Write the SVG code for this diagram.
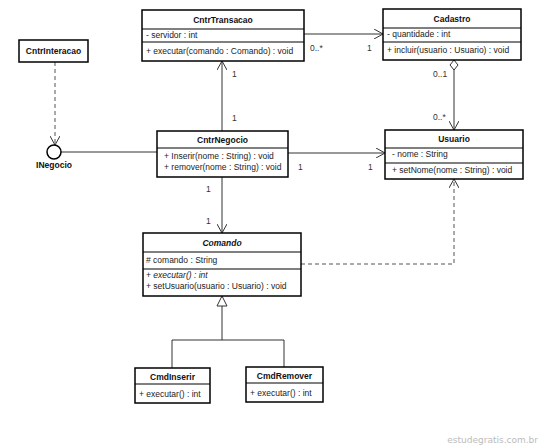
<svg xmlns="http://www.w3.org/2000/svg" width="546" height="448" viewBox="0 0 546 448">
<style>
.box{fill:#fff;stroke:#000;stroke-width:1.5}
.sep{stroke:#000;stroke-width:1}
.t{font-family:"Liberation Sans",Arial,sans-serif;font-size:8.5px;fill:#222}
.h{font-family:"Liberation Sans",Arial,sans-serif;font-size:8.5px;font-weight:bold;fill:#111;text-anchor:middle}
.c{stroke:#333;stroke-width:1;fill:none}
.d{stroke:#555;stroke-width:1;fill:none;stroke-dasharray:4,3}
.m{font-family:"Liberation Sans",Arial,sans-serif;font-size:8.5px;fill:#333}
</style>
<defs>
<marker id="open" markerWidth="10" markerHeight="10" refX="9" refY="5" orient="auto" markerUnits="userSpaceOnUse">
<path d="M0,0 L9,5 L0,10" fill="none" stroke="#333" stroke-width="1"/>
</marker>
<marker id="tri" markerWidth="12" markerHeight="12" refX="11" refY="6" orient="auto" markerUnits="userSpaceOnUse">
<path d="M1,1 L11,6 L1,11 Z" fill="#fff" stroke="#333" stroke-width="1"/>
</marker>
<marker id="dia" markerWidth="14" markerHeight="10" refX="1" refY="5" orient="auto" markerUnits="userSpaceOnUse">
<path d="M1,5 L6,1 L11,5 L6,9 Z" fill="#fff" stroke="#333" stroke-width="1"/>
</marker>
</defs>
<g id="connectors">
<line class="c" x1="304" y1="34" x2="383" y2="34" marker-end="url(#open)"/>
<line class="d" x1="55" y1="62" x2="55" y2="145" marker-end="url(#open)"/>
<line class="c" x1="61" y1="152" x2="157" y2="152"/>
<line class="c" x1="222" y1="131" x2="222" y2="61" marker-end="url(#open)"/>
<line class="c" x1="288" y1="153" x2="385" y2="153" marker-end="url(#open)"/>
<line class="c" x1="222" y1="177" x2="222" y2="233" marker-end="url(#open)"/>
<line class="c" x1="454" y1="60" x2="454" y2="130" marker-start="url(#dia)" marker-end="url(#open)"/>
<polyline class="d" points="301,264 454,264 454,179" marker-end="url(#open)"/>
<polyline class="c" points="172,368 172,340 284,340 284,367"/>
<line class="c" x1="222" y1="340" x2="222" y2="296" marker-end="url(#tri)"/>
<text class="m" x="310" y="51">0..*</text>
<text class="m" x="367" y="51">1</text>
<text class="m" x="232" y="77">1</text>
<text class="m" x="232" y="121">1</text>
<text class="m" x="298" y="170">1</text>
<text class="m" x="368" y="170">1</text>
<text class="m" x="206" y="192">1</text>
<text class="m" x="206" y="224">1</text>
<text class="m" x="433" y="77">0..1</text>
<text class="m" x="433" y="120">0..*</text>
</g>
<g id="CntrTransacao">
<rect class="box" x="142" y="10" width="162" height="51"/>
<line class="sep" x1="142" y1="29" x2="304" y2="29"/>
<line class="sep" x1="142" y1="42" x2="304" y2="42"/>
<text class="h" x="223" y="23">CntrTransacao</text>
<text class="t" x="146" y="38">- servidor : int</text>
<text class="t" x="146" y="54">+ executar(comando : Comando) : void</text>
</g>
<g id="Cadastro">
<rect class="box" x="383" y="9" width="138" height="51"/>
<line class="sep" x1="383" y1="28" x2="521" y2="28"/>
<line class="sep" x1="383" y1="42" x2="521" y2="42"/>
<text class="h" x="452" y="22">Cadastro</text>
<text class="t" x="387" y="37">- quantidade : int</text>
<text class="t" x="387" y="53">+ incluir(usuario : Usuario) : void</text>
</g>
<g id="CntrInteracao">
<rect class="box" x="19" y="40" width="69" height="22"/>
<text class="h" x="53.5" y="54">CntrInteracao</text>
</g>
<g id="INegocio">
<circle cx="54" cy="152" r="7" fill="#fff" stroke="#000" stroke-width="1.5"/>
<text class="h" x="54" y="168">INegocio</text>
</g>
<g id="CntrNegocio">
<rect class="box" x="157" y="131" width="131" height="46"/>
<line class="sep" x1="157" y1="148" x2="288" y2="148"/>
<text class="h" x="222.5" y="143">CntrNegocio</text>
<text class="t" x="164" y="159">+ Inserir(nome : String) : void</text>
<text class="t" x="164" y="170">+ remover(nome : String) : void</text>
</g>
<g id="Usuario">
<rect class="box" x="385" y="130" width="138" height="49"/>
<line class="sep" x1="385" y1="148" x2="523" y2="148"/>
<line class="sep" x1="385" y1="163" x2="523" y2="163"/>
<text class="h" x="454" y="142">Usuario</text>
<text class="t" x="392" y="157">- nome : String</text>
<text class="t" x="392" y="173">+ setNome(nome : String) : void</text>
</g>
<g id="Comando">
<rect class="box" x="143" y="233" width="158" height="63"/>
<line class="sep" x1="143" y1="252" x2="301" y2="252"/>
<line class="sep" x1="143" y1="269" x2="301" y2="269"/>
<text class="h" x="222" y="246" font-style="italic">Comando</text>
<text class="t" x="146" y="263"># comando : String</text>
<text class="t" x="146" y="278">+ <tspan font-style="italic">executar() : int</tspan></text>
<text class="t" x="146" y="289">+ setUsuario(usuario : Usuario) : void</text>
</g>
<g id="CmdInserir">
<rect class="box" x="135" y="368" width="75" height="35"/>
<line class="sep" x1="135" y1="384" x2="210" y2="384"/>
<text class="h" x="172.5" y="380">CmdInserir</text>
<text class="t" x="139" y="397">+ executar() : int</text>
</g>
<g id="CmdRemover">
<rect class="box" x="246" y="367" width="77" height="35"/>
<line class="sep" x1="246" y1="383" x2="323" y2="383"/>
<text class="h" x="284.5" y="379">CmdRemover</text>
<text class="t" x="250" y="396">+ executar() : int</text>
</g>
<text x="538" y="443" text-anchor="end" font-family="'DejaVu Sans',sans-serif" font-size="9px" fill="#bbb">estudegratis.com.br</text>
</svg>
